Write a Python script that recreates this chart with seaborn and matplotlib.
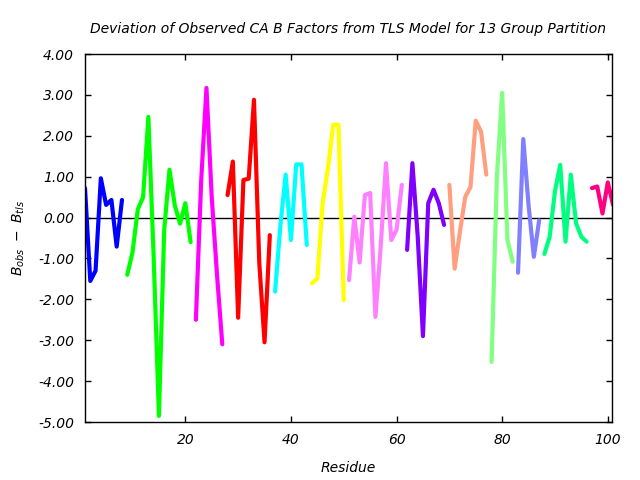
"""Deviation of observed CA B factors from a 13-group TLS model."""

import matplotlib

matplotlib.use("Agg")
import matplotlib.pyplot as plt
import pandas as pd
import seaborn as sns

# residue ranges and B_obs - B_tls values, one pair per TLS group
g1_res = list(range(1, 9))
g1_val = [0.72, -1.55, -1.3, 0.96, 0.31, 0.43, -0.71, 0.43]
g2_res = list(range(9, 22))
g2_val = [-1.4, -0.85, 0.2, 0.5, 2.46, -0.95, -4.85, -0.3, 1.17, 0.3, -0.15, 0.35, -0.6]
g3_res = list(range(22, 28))
g3_val = [-2.5, 0.9, 3.17, 0.5, -1.4, -3.1]
g4_res = list(range(28, 37))
g4_val = [0.55, 1.37, -2.45, 0.92, 0.95, 2.88, -1.1, -3.05, -0.43]
g5_res = list(range(37, 44))
g5_val = [-1.81, -0.2, 1.05, -0.55, 1.3, 1.3, -0.67]
g6_res = list(range(44, 51))
g6_val = [-1.61, -1.49, 0.35, 1.2, 2.27, 2.27, -2.02]
g7_res = list(range(51, 62))
g7_val = [-1.53, 0.02, -1.1, 0.55, 0.6, -2.43, -0.7, 1.33, -0.55, -0.3, 0.8]
g8_res = list(range(62, 70))
g8_val = [-0.79, 1.33, -0.45, -2.9, 0.35, 0.68, 0.35, -0.18]
g9_res = list(range(70, 78))
g9_val = [0.8, -1.25, -0.35, 0.5, 0.75, 2.37, 2.1, 1.05]
g10_res = list(range(78, 83))
g10_val = [-3.53, 1.0, 3.05, -0.55, -1.08]
g11_res = list(range(83, 88))
g11_val = [-1.35, 1.92, 0.3, -0.96, -0.07]
g12_res = list(range(88, 97))
g12_val = [-0.89, -0.47, 0.65, 1.29, -0.59, 1.05, -0.14, -0.47, -0.59]
g13_res = list(range(97, 102))
g13_val = [0.72, 0.76, 0.1, 0.86, 0.31]

GROUP_COLORS = [
    "#0000ff", "#00ff00", "#ff00ff", "#ff0000", "#00ffff", "#ffff00", "#ff80ff",
    "#8000ff", "#ff9f80", "#80ff80", "#8080ff", "#00ff80", "#ff0080",
]

groups = [
    (g1_res, g1_val), (g2_res, g2_val), (g3_res, g3_val), (g4_res, g4_val),
    (g5_res, g5_val), (g6_res, g6_val), (g7_res, g7_val), (g8_res, g8_val),
    (g9_res, g9_val), (g10_res, g10_val), (g11_res, g11_val), (g12_res, g12_val),
    (g13_res, g13_val),
]

sns.set_style("ticks")
plt.rcParams["font.family"] = ["DejaVu Sans"]
plt.rcParams["font.style"] = "italic"
plt.rcParams["mathtext.fontset"] = "dejavusans"
plt.rcParams["text.color"] = "black"
plt.rcParams["axes.labelcolor"] = "black"
plt.rcParams["xtick.color"] = "black"
plt.rcParams["ytick.color"] = "black"

fig = plt.figure(figsize=(6.4, 4.8), dpi=100)
ax = fig.add_axes([85 / 640, 58 / 480, 527 / 640, 368 / 480])

for i, (res, val) in enumerate(groups):
    df = pd.DataFrame({"residue": res, "dev": val})
    sns.lineplot(data=df, x="residue", y="dev", color=GROUP_COLORS[i],
                 linewidth=3, ax=ax, legend=False)

ax.axhline(0, color="black", linewidth=1, zorder=0)
ax.set_xlim(1, 100.8)
ax.set_ylim(-5, 4)
ax.set_xticks([20, 40, 60, 80, 100])
ax.set_yticks(range(-5, 5))
ax.set_yticklabels([f"{v:.2f}" for v in range(-5, 5)])
ax.tick_params(direction="in", top=True, right=True, length=4, width=1,
               labelsize=10, pad=8, colors="black")
for spine in ax.spines.values():
    spine.set_linewidth(1)
    spine.set_color("black")

ax.set_title("Deviation of Observed CA B Factors from TLS Model for 13 Group Partition",
             fontsize=10, style="italic", pad=15, color="black")
ax.set_xlabel("Residue", fontsize=10, style="italic", labelpad=10)
ax.set_ylabel(r"$B_{obs}\ -\ B_{tls}$", fontsize=10, labelpad=8)

fig.savefig("out.png", dpi=100)
plt.close(fig)
